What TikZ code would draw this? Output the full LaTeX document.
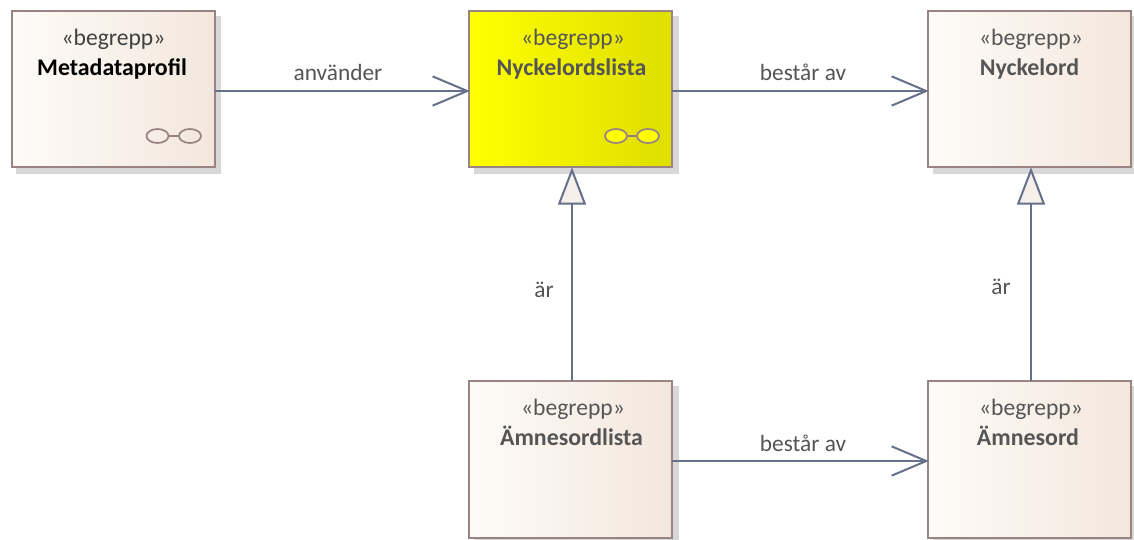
\documentclass[tikz,border=0pt]{standalone}
\usepackage{fontspec}
\setmainfont{Carlito}
\usetikzlibrary{arrows.meta,calc,shapes.geometric}
\definecolor{boxline}{HTML}{9A8383}
\definecolor{boxl}{HTML}{FEFBF8}
\definecolor{boxr}{HTML}{F3E7DD}
\definecolor{tri}{HTML}{F7EFEA}
\definecolor{yell}{HTML}{FFFF00}
\definecolor{yelr}{HTML}{DEDE00}
\definecolor{conn}{HTML}{66708A}
\definecolor{txt}{HTML}{555555}
\definecolor{shad}{HTML}{D8D8D8}
\tikzset{
  px/.style={x=0.75pt,y=-0.75pt},
  concept/.style={draw=boxline,line width=1.5pt,minimum width=152.5pt,minimum height=117.5pt,inner sep=0pt,outer sep=0pt,shading=axis,left color=boxl,right color=boxr,shading angle=90},
  hot/.style={left color=yell,right color=yelr},
  shadowbox/.style={fill=shad,draw=none,minimum width=153.5pt,minimum height=118pt,inner sep=0pt,outer sep=0pt},
  stereo/.style={text=txt,font=\fontsize{17.7pt}{20pt}\selectfont,inner sep=0pt,anchor=base},
  title/.style={text=txt,font=\fontsize{17.9pt}{20pt}\selectfont\bfseries,inner sep=0pt,anchor=base},
  lbl/.style={text=txt,font=\fontsize{17.5pt}{20pt}\selectfont,inner sep=0pt},
  assoc/.style={draw=conn,line width=1.5pt,-{Straight Barb[length=26pt,width=22pt,line width=1.5pt]}},
  gener/.style={draw=conn,line width=1.5pt,-{Triangle[length=28pt,width=21pt,open,fill=tri,line width=1.5pt]}},
  lens/.style={draw=boxline,line width=1.3pt,ellipse,minimum width=16.5pt,minimum height=10.5pt,inner sep=0pt,outer sep=0pt},
}
\begin{document}
\begin{tikzpicture}[px]
\useasboundingbox (0,0) rectangle (1134,539);
\clip (0,0) rectangle (1134,539);
\fill[white] (0,0) rectangle (1134,539);
% shadows
\node[shadowbox] (s1) at (118.5,95) {};
\node[shadowbox] (s2) at (576.5,95) {};
\node[shadowbox] (s3) at (1035.5,95) {};
\node[shadowbox] (s4) at (576.5,465) {};
\node[shadowbox] (s5) at (1035.5,465) {};
% boxes
\node[concept] (meta) at (113.5,89) {};
\node[concept,hot] (nyl) at (570.5,89) {};
\node[concept] (nyc) at (1029.5,89) {};
\node[concept] (aml) at (570.5,459.5) {};
\node[concept] (ams) at (1029.5,459.5) {};
% texts
\node[stereo,text=black!75] (t1) at (113.5,45) {«begrepp»};
\node[title,text=black] (n1) at (112,75) {Metadataprofil};
\node[stereo] (t2) at (573,45) {«begrepp»};
\node[title] (n2) at (571.5,75) {Nyckelordslista};
\node[stereo] (t3) at (1031,45) {«begrepp»};
\node[title] (n3) at (1029.5,75) {Nyckelord};
\node[stereo] (t4) at (573,415) {«begrepp»};
\node[title] (n4) at (571.5,445) {Ämnesordlista};
\node[stereo] (t5) at (1031,415) {«begrepp»};
\node[title] (n5) at (1028,445) {Ämnesord};
% glasses
\node[lens] (g1a) at (157.5,136) {};
\node[lens] (g1b) at (190,136) {};
\draw[boxline,line width=1.3pt] (g1a) -- (g1b);
\node[lens,fill=yell] (g2a) at (616,136) {};
\node[lens,fill=yell] (g2b) at (648,136) {};
\draw[boxline,line width=1.3pt] (g2a) -- (g2b);
% connectors
\draw[assoc] ($(meta.east)+(0,2)$) -- ($(nyl.west)+(1,2)$);
\draw[assoc] ($(nyl.east)+(0,2)$) -- ($(nyc.west)+(1,2)$);
\draw[assoc] ($(aml.east)+(0,1.5)$) -- ($(ams.west)+(1,1.5)$);
\draw[gener] ($(aml.north)+(1.5,0)$) -- ($(nyl.south)+(1.5,0)$);
\draw[gener] ($(ams.north)+(1.5,0)$) -- ($(nyc.south)+(1.5,0)$);
% labels
\node[lbl] (l1) at (338,72) {använder};
\node[lbl] (l2) at (803,72) {består av};
\node[lbl] (l3) at (803,443) {består av};
\node[lbl] (l4) at (544,290) {är};
\node[lbl] (l5) at (1001,287) {är};
\end{tikzpicture}
\end{document}
